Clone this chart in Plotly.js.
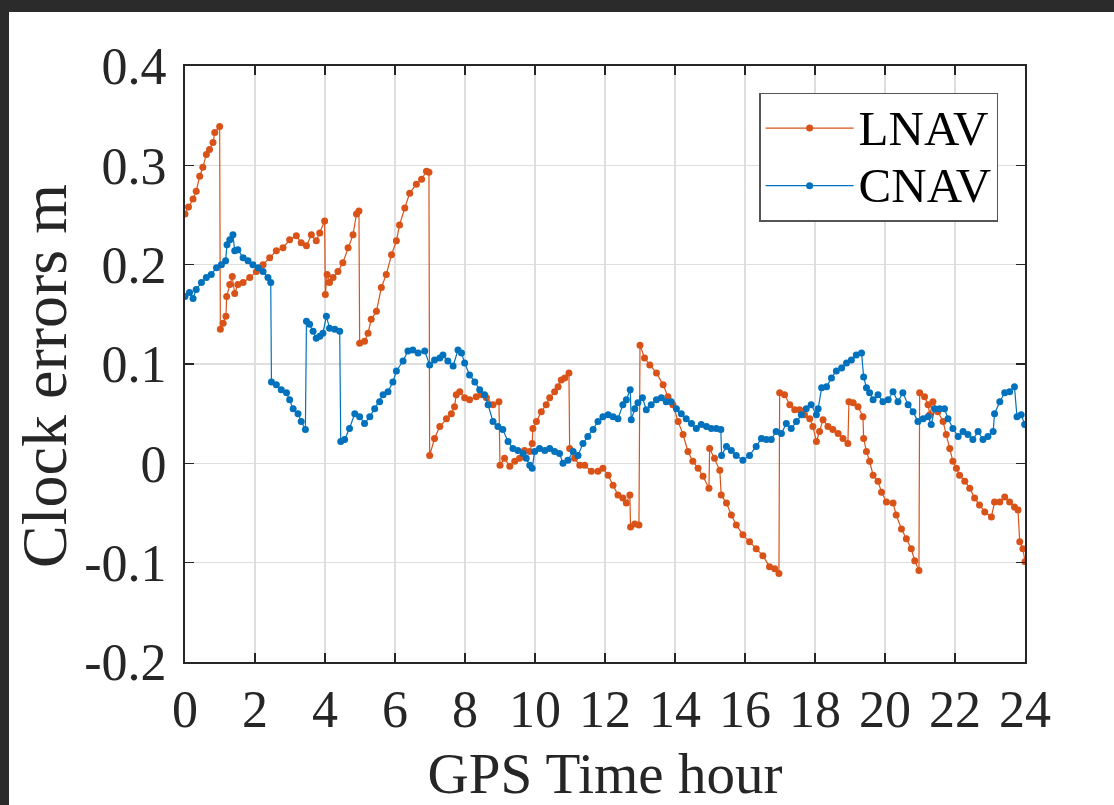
<!DOCTYPE html>
<html>
<head>
<meta charset="utf-8">
<script src="https://cdn.plot.ly/plotly-3.0.1.min.js"></script>
<style>
  html, body { margin: 0; padding: 0; background: #2b2b2b; width: 1114px; height: 805px; overflow: hidden; }
  #chart { position: absolute; left: 9px; top: 12px; width: 1105px; height: 793px; background: #ffffff; }
</style>
</head>
<body>
<div id="chart"></div>
<script>
const lnavHours = [0.00,0.10,0.23,0.32,0.42,0.51,0.61,0.70,0.80,0.85,0.99,1.01,1.09,1.17,1.19,1.28,1.35,1.42,1.51,1.66,1.85,2.04,2.23,2.42,2.61,2.80,2.99,3.18,3.32,3.47,3.61,3.75,3.85,3.99,4.01,4.06,4.13,4.23,4.37,4.51,4.66,4.80,4.90,4.97,4.99,5.13,5.23,5.32,5.47,5.61,5.75,5.90,6.04,6.13,6.28,6.42,6.61,6.76,6.90,6.97,6.99,7.13,7.28,7.47,7.61,7.70,7.75,7.85,7.99,8.13,8.32,8.46,8.61,8.80,8.97,9.00,9.13,9.28,9.42,9.56,9.70,9.85,9.92,9.94,10.04,10.18,10.32,10.42,10.56,10.66,10.75,10.85,10.97,10.99,11.13,11.28,11.42,11.61,11.80,11.94,12.09,12.23,12.37,12.51,12.61,12.71,12.73,12.85,12.97,13.00,13.13,13.28,13.47,13.66,13.80,13.94,14.09,14.23,14.37,14.51,14.66,14.80,14.97,14.99,15.13,15.28,15.32,15.47,15.61,15.75,15.94,16.13,16.32,16.51,16.70,16.85,16.97,16.99,17.13,17.28,17.42,17.56,17.70,17.85,17.94,18.04,18.13,18.23,18.37,18.51,18.66,18.80,18.94,18.97,19.09,19.23,19.37,19.39,19.47,19.56,19.66,19.80,19.90,20.04,20.23,20.32,20.47,20.61,20.75,20.85,20.97,20.99,21.13,21.23,21.28,21.37,21.51,21.66,21.75,21.85,21.94,22.04,22.13,22.28,22.42,22.56,22.70,22.85,23.04,23.13,23.28,23.42,23.56,23.70,23.80,23.85,23.94,24.00];
const lnavClock = [0.251,0.258,0.266,0.274,0.289,0.298,0.311,0.316,0.323,0.333,0.339,0.135,0.141,0.148,0.168,0.180,0.188,0.171,0.180,0.182,0.187,0.193,0.200,0.207,0.214,0.217,0.225,0.229,0.222,0.219,0.230,0.224,0.232,0.244,0.170,0.190,0.182,0.187,0.193,0.202,0.217,0.230,0.251,0.254,0.121,0.123,0.131,0.145,0.153,0.177,0.190,0.210,0.224,0.240,0.257,0.272,0.281,0.286,0.294,0.293,0.008,0.025,0.037,0.045,0.050,0.057,0.069,0.072,0.066,0.064,0.067,0.069,0.066,0.059,0.062,-0.002,0.005,-0.003,0.002,0.005,0.013,0.012,0.020,0.035,0.042,0.052,0.059,0.066,0.072,0.077,0.084,0.086,0.091,0.015,0.005,-0.002,-0.002,-0.008,-0.008,-0.005,-0.012,-0.022,-0.032,-0.035,-0.040,-0.032,-0.064,-0.061,-0.062,0.119,0.106,0.099,0.091,0.079,0.067,0.059,0.042,0.029,0.012,0.002,-0.005,-0.013,-0.025,0.015,0.005,-0.007,-0.032,-0.040,-0.052,-0.062,-0.072,-0.079,-0.086,-0.093,-0.104,-0.106,-0.111,0.071,0.069,0.059,0.054,0.054,0.049,0.045,0.037,0.022,0.032,0.044,0.037,0.034,0.030,0.025,0.020,0.062,0.061,0.057,0.047,0.025,0.012,0.002,-0.012,-0.018,-0.029,-0.039,-0.040,-0.052,-0.066,-0.076,-0.086,-0.098,-0.108,0.071,0.067,0.059,0.049,0.062,0.052,0.042,0.029,0.015,0.002,-0.005,-0.012,-0.018,-0.025,-0.035,-0.042,-0.049,-0.054,-0.039,-0.039,-0.034,-0.039,-0.044,-0.047,-0.079,-0.086,-0.099];

const cnavHours = [0.00,0.13,0.23,0.32,0.47,0.61,0.75,0.90,1.04,1.16,1.20,1.28,1.37,1.42,1.51,1.66,1.80,1.94,2.09,2.23,2.37,2.45,2.47,2.61,2.75,2.90,2.99,3.09,3.23,3.32,3.44,3.47,3.56,3.66,3.75,3.85,3.94,4.04,4.13,4.28,4.42,4.45,4.56,4.70,4.85,4.99,5.13,5.28,5.42,5.56,5.66,5.80,5.94,6.04,6.23,6.37,6.51,6.66,6.85,6.99,7.13,7.28,7.37,7.51,7.66,7.80,7.90,7.99,8.13,8.28,8.42,8.56,8.66,8.80,8.94,9.08,9.23,9.37,9.51,9.66,9.75,9.85,9.92,9.99,10.13,10.28,10.42,10.56,10.70,10.80,10.94,11.09,11.23,11.37,11.51,11.66,11.80,11.94,12.09,12.23,12.37,12.51,12.61,12.72,12.75,12.85,12.94,13.07,13.18,13.32,13.47,13.61,13.75,13.89,14.04,14.18,14.32,14.47,14.61,14.75,14.90,15.04,15.18,15.31,15.33,15.47,15.61,15.75,15.94,16.13,16.32,16.47,16.61,16.75,16.89,17.04,17.18,17.32,17.47,17.61,17.75,17.89,18.04,18.09,18.19,18.33,18.47,18.61,18.76,18.90,19.04,19.18,19.33,19.39,19.47,19.56,19.66,19.80,19.94,20.09,20.23,20.37,20.51,20.66,20.80,20.94,21.09,21.23,21.32,21.42,21.56,21.70,21.80,21.94,22.09,22.23,22.37,22.51,22.66,22.80,22.94,23.09,23.13,23.28,23.42,23.56,23.70,23.77,23.89,23.99];
const cnavClock = [0.168,0.172,0.166,0.175,0.182,0.187,0.190,0.197,0.200,0.204,0.220,0.225,0.230,0.214,0.215,0.207,0.204,0.200,0.197,0.193,0.187,0.182,0.082,0.079,0.074,0.071,0.064,0.055,0.050,0.042,0.034,0.143,0.140,0.133,0.126,0.128,0.131,0.148,0.136,0.135,0.133,0.022,0.024,0.035,0.050,0.047,0.040,0.047,0.055,0.062,0.069,0.072,0.082,0.093,0.103,0.113,0.114,0.111,0.113,0.099,0.104,0.106,0.109,0.103,0.098,0.114,0.111,0.101,0.089,0.082,0.074,0.069,0.059,0.042,0.037,0.034,0.022,0.015,0.013,0.010,0.005,-0.002,-0.005,0.012,0.015,0.013,0.015,0.012,0.010,0.000,0.003,0.012,0.008,0.020,0.027,0.034,0.042,0.047,0.049,0.047,0.045,0.059,0.064,0.074,0.044,0.055,0.061,0.066,0.054,0.059,0.064,0.066,0.062,0.062,0.055,0.050,0.045,0.040,0.035,0.039,0.037,0.035,0.035,0.034,0.008,0.017,0.013,0.008,0.003,0.008,0.017,0.025,0.024,0.024,0.032,0.030,0.040,0.035,0.042,0.049,0.055,0.059,0.049,0.055,0.076,0.077,0.086,0.093,0.096,0.101,0.104,0.109,0.111,0.087,0.076,0.071,0.064,0.069,0.062,0.064,0.072,0.062,0.071,0.059,0.052,0.042,0.045,0.047,0.039,0.055,0.055,0.055,0.045,0.035,0.027,0.032,0.029,0.024,0.032,0.024,0.027,0.032,0.050,0.062,0.071,0.072,0.077,0.047,0.049,0.039];

const seriesNames = ['LNAV', 'CNAV'];
const xTickVals = [0,2,4,6,8,10,12,14,16,18,20,22,24];
const yTickVals = [-0.2,-0.1,0,0.1,0.2,0.3,0.4];
const yTickText = ['-0.2','-0.1','0','0.1','0.2','0.3','0.4'];
const xTitle = 'GPS Time hour';
const yTitle = 'Clock errors m';

const FONT = 'Liberation Serif, Times New Roman, serif';
const AX = '#262626';

function legendName(s) { return '<span style="font-size:49px">' + s + '</span>'; }

const traces = [
  { x: lnavHours, y: lnavClock, name: legendName(seriesNames[0]), type: 'scatter', mode: 'lines+markers',
    line: { color: '#D95319', width: 1.2 }, marker: { color: '#D95319', size: 7 } },
  { x: cnavHours, y: cnavClock, name: legendName(seriesNames[1]), type: 'scatter', mode: 'lines+markers',
    line: { color: '#0072BD', width: 1.2 }, marker: { color: '#0072BD', size: 7 } }
];

const axisCommon = {
  showline: true, linecolor: AX, linewidth: 2, mirror: 'ticks',
  ticks: 'inside', ticklen: 9, tickwidth: 1.5, tickcolor: AX,
  showgrid: true, gridcolor: '#dedede', gridwidth: 1.2,
  zeroline: false,
  tickfont: { family: FONT, size: 52, color: AX }
};

const layout = {
  width: 1105, height: 793,
  margin: { l: 176, r: 89, t: 54, b: 143, pad: 0 },
  paper_bgcolor: '#ffffff', plot_bgcolor: '#ffffff',
  font: { family: FONT, color: AX },
  showlegend: true,
  xaxis: Object.assign({}, axisCommon, {
    range: [0, 24], tickmode: 'array', tickvals: xTickVals,
    title: { text: xTitle, font: { family: FONT, size: 57, color: AX }, standoff: 22 },
    ticklabelstandoff: 1
  }),
  yaxis: Object.assign({}, axisCommon, {
    range: [-0.2, 0.4], tickmode: 'array', tickvals: yTickVals, ticktext: yTickText,
    ticklabelstandoff: 6
  }),
  annotations: [{
    text: yTitle, xref: 'paper', yref: 'paper', x: -0.1667, y: 0.48,
    xanchor: 'center', yanchor: 'middle', textangle: -90, showarrow: false,
    font: { family: FONT, size: 64, color: AX }
  }],
  legend: {
    x: 0.968, y: 0.955, xanchor: 'right', yanchor: 'top',
    bgcolor: '#ffffff', bordercolor: '#555555', borderwidth: 1.5,
    font: { family: FONT, size: 42, color: '#000000' },
    itemwidth: 88, tracegroupgap: 0
  }
};

Plotly.newPlot('chart', traces, layout, { displayModeBar: false, staticPlot: true });
</script>
</body>
</html>
